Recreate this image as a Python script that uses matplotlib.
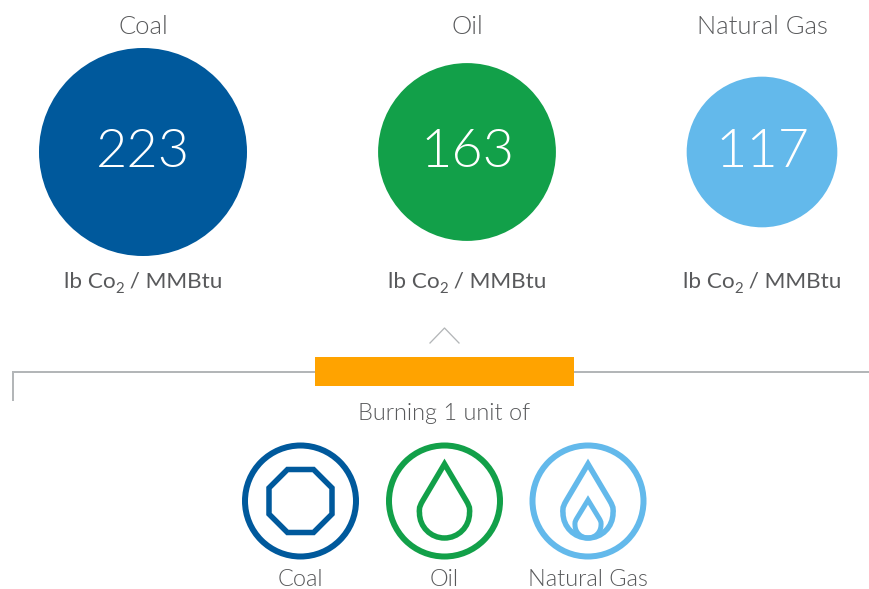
import numpy as np
import matplotlib
matplotlib.use("Agg")
import matplotlib.pyplot as plt
from matplotlib.patches import Circle, Rectangle, Polygon, PathPatch
from matplotlib.path import Path

plt.rcParams['font.family'] = ['Lato', 'DejaVu Sans']

FUELS = ["Coal", "Oil", "Natural Gas"]
VALUES = [223, 163, 117]
COLORS = ["#00599c", "#12a049", "#63b9eb"]
UNIT_PARTS = ["lb Co", "2", " / MMBtu"]
CAPTION = "Burning 1 unit of"

TEXT = "#58595b"
GREY = "#b3b6b8"
ORANGE = "#ffa300"

# layout in pixels of the 870x589 picture
BIG_X = [143, 467, 762]
BIG_Y = 152
ICON_X = [300.5, 444.5, 588]
ICON_Y = 501
R_MAX = 104


def px(size):
    return size * 0.72


def drop(cx, tip_y, bulb_y, r, color, lw):
    # pointed top, round bottom
    a = np.deg2rad(30)
    k = 0.5523 * r
    lx, ly = cx - r * np.cos(a), bulb_y - r * np.sin(a)
    rx, ry = cx + r * np.cos(a), bulb_y - r * np.sin(a)
    verts = [(cx, tip_y), (lx, ly),
             (lx - k * 0.35, ly + k * 0.6), (cx - r, bulb_y - k * 0.2), (cx - r, bulb_y),
             (cx - r, bulb_y + k), (cx - k, bulb_y + r), (cx, bulb_y + r),
             (cx + k, bulb_y + r), (cx + r, bulb_y + k), (cx + r, bulb_y),
             (cx + r, bulb_y - k * 0.2), (rx + k * 0.35, ry + k * 0.6), (rx, ry),
             (cx, tip_y)]
    codes = [Path.MOVETO, Path.LINETO] + [Path.CURVE4] * 12 + [Path.CLOSEPOLY]
    return PathPatch(Path(verts, codes), fill=False, ec=color, lw=lw, joinstyle='miter')


fig = plt.figure(figsize=(8.7, 5.89), dpi=100)
ax = fig.add_axes([0, 0, 1, 1])
ax.set_xlim(0, 870)
ax.set_ylim(589, 0)
ax.axis('off')
renderer = fig.canvas.get_renderer()


def unit_label(xc, y):
    # three pieces, the subscript sits lower than mathtext would put it
    sizes = [px(22.5), px(15), px(22.5)]
    shifts = [0, 5, 0]
    widths = []
    for part, s in zip(UNIT_PARTS, sizes):
        t = ax.text(0, 0, part.replace(" ", "\u00a0"), fontsize=s)
        widths.append(t.get_window_extent(renderer).width)
        t.remove()
    x = xc - sum(widths) / 2
    for part, s, dy, w in zip(UNIT_PARTS, sizes, shifts, widths):
        ax.text(x, y + dy, part.replace(" ", "\u00a0"), color=TEXT, fontsize=s, ha='left', va='baseline')
        x += w


for name, val, col, x in zip(FUELS, VALUES, COLORS, BIG_X):
    # area goes with the value
    r = R_MAX * np.sqrt(val / max(VALUES))
    ax.add_patch(Circle((x, BIG_Y), r, fc=col, ec='none'))
    ax.text(x, BIG_Y + 0.5, str(val), color='white', fontsize=px(54), ha='center', va='center', fontweight=300)
    ax.text(x, 27.5, name, color=TEXT, fontsize=px(25.5), ha='center', va='center', fontweight=300)
    unit_label(x, 288)

# bracket, chevron and orange bar
ax.plot([13, 13, 871], [400, 371.5, 371.5], color=GREY, lw=px(2), solid_joinstyle='miter')
ax.plot([430, 444.5, 459], [343, 328, 343], color=GREY, lw=px(1.3))
ax.add_patch(Rectangle((315, 357), 259, 29, fc=ORANGE, ec='none', zorder=3))
ax.text(444, 414, CAPTION, color=TEXT, fontsize=px(23.5), ha='center', va='center', fontweight=300)

# icons
for name, col, x in zip(FUELS, COLORS, ICON_X):
    ax.add_patch(Circle((x, ICON_Y), 55.5, fill=False, ec=col, lw=px(6)))
    ax.text(x - 0.5, 580, name, color=TEXT, fontsize=px(23.5), ha='center', va='center', fontweight=300)

ang = np.deg2rad(22.5 + 45 * np.arange(8))
oct_r = 31.5 / np.cos(np.deg2rad(22.5))
ax.add_patch(Polygon(np.c_[ICON_X[0] + oct_r * np.cos(ang), ICON_Y + oct_r * np.sin(ang)],
                     closed=True, fill=False, ec=COLORS[0], lw=px(5.5), joinstyle='miter'))

ax.add_patch(drop(ICON_X[1], 464, 513, 25, COLORS[1], px(5.5)))
ax.add_patch(drop(ICON_X[2], 464, 513, 25, COLORS[2], px(5.5)))
ax.add_patch(drop(ICON_X[2], 500, 525, 13, COLORS[2], px(5)))

fig.savefig("out.png", dpi=100)
